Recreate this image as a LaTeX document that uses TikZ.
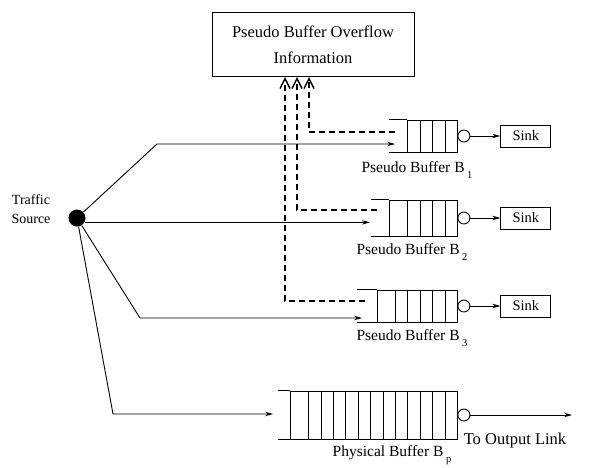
\documentclass[tikz,border=0pt]{standalone}
\usepackage{fontspec}
\setmainfont{Liberation Serif}
\usetikzlibrary{arrows.meta,positioning}

\newcommand{\bsub}[1]{\,\raisebox{-0.4em}{\fontsize{10.5}{10.5}\selectfont #1}}

\begin{document}
\begin{tikzpicture}[
  x=1pt, y=-1pt,
  node distance=30pt,
  infobox/.style={draw, line width=1pt, align=center, minimum width=202pt, minimum height=64pt, font=\fontsize{16.5}{26}\selectfont},
  queue/.style={draw, line width=0.9pt, inner sep=0pt},
  server/.style={draw, circle, line width=0.9pt, minimum size=12pt, inner sep=0pt, fill=white},
  sinkbox/.style={draw, line width=0.9pt, minimum width=50pt, minimum height=22pt, inner sep=0pt, font=\fontsize{14.5}{17}\selectfont},
  src/.style={circle, fill=black, minimum size=17pt, inner sep=0pt},
  lbl/.style={font=\fontsize{15.5}{18}\selectfont},
  arr/.style={-{Stealth[length=8pt,width=4.5pt]}, line width=0.9pt},
  fb/.style={-{Straight Barb[length=10pt,width=10pt]}, line width=1.4pt, dash pattern=on 6pt off 4pt}
]
\useasboundingbox (0,0) rectangle (610,467);

% overflow information
\node[infobox] (info) at (313,44.5) {Pseudo Buffer Overflow\\Information};

% traffic source
\node[src] (src) at (77,218) {};
\node[align=center, font=\fontsize{14}{19}\selectfont] (srclbl) at (31,209) {Traffic\\Source};

% buffers
\node[queue, minimum width=50pt, minimum height=32pt] (b1) at (432,136) {};
\node[queue, minimum width=68pt, minimum height=36pt] (b2) at (423,218) {};
\node[queue, minimum width=80pt, minimum height=32pt] (b3) at (417,306) {};
\node[queue, minimum width=167pt, minimum height=48pt] (bp) at (373.5,415) {};

\foreach \b/\n in {b1/3, b2/4, b3/5, bp/12}
  \foreach \i in {1,...,\n}
    \draw[line width=0.9pt] ([xshift=-\i*12.4pt]\b.north east) -- ([xshift=-\i*12.4pt]\b.south east);
\foreach \b/\l in {b1/18, b2/18, b3/20, bp/12} {
  \draw[line width=0.9pt] (\b.north west) -- ++(-\l,0);
  \draw[line width=0.9pt] (\b.south west) -- ++(-\l,0);
}

% servers and sinks
\node[server, anchor=west] (s1) at (b1.east) {};
\node[server, anchor=west] (s2) at (b2.east) {};
\node[server, anchor=west] (s3) at (b3.east) {};
\node[server, anchor=west] (sp) at (bp.east) {};
\node[sinkbox, right=of s1] (k1) {Sink};
\node[sinkbox, right=of s2] (k2) {Sink};
\node[sinkbox, right=of s3] (k3) {Sink};
\coordinate (outlink) at (572,415);

\draw[arr] (s1) -- (k1);
\draw[arr] (s2) -- (k2);
\draw[arr] (s3) -- (k3);
\draw[arr] (sp) -- (outlink);

% labels
\node[lbl] (l1) at (417,170) {Pseudo Buffer B\bsub{1}};
\node[lbl] (l2) at (412,252) {Pseudo Buffer B\bsub{2}};
\node[lbl] (l3) at (412,338) {Pseudo Buffer B\bsub{3}};
\node[lbl] (lp) at (392,455) {Physical Buffer B\bsub{p}};
\node[font=\fontsize{16.5}{20}\selectfont] (outlbl) at (515,441) {To Output Link};

% traffic to buffers
\coordinate (bend1) at (157,144);
\coordinate (in1) at (395,144);
\coordinate (in2) at (370,222);
\coordinate (bend3) at (140,318);
\coordinate (in3) at (362,318);
\coordinate (bendp) at (113,414);
\coordinate (inp) at (273,414);
\draw[arr] (src) -- (bend1) -- (in1);
\draw[arr] (src.-30) -- (src.-30 -| in2);
\draw[arr] (src) -- (bend3) -- (in3);
\draw[arr] (src) -- (bendp) -- (inp);

% overflow feedback
\coordinate (d1) at (395,132);
\coordinate (d2) at (377,210);
\coordinate (d3) at (365,301);
\draw[fb] (d1) -| ([xshift=-4pt]info.south);
\draw[fb] (d2) -| ([xshift=-16pt]info.south);
\draw[fb] (d3) -| ([xshift=-28pt]info.south);
\end{tikzpicture}
\end{document}
